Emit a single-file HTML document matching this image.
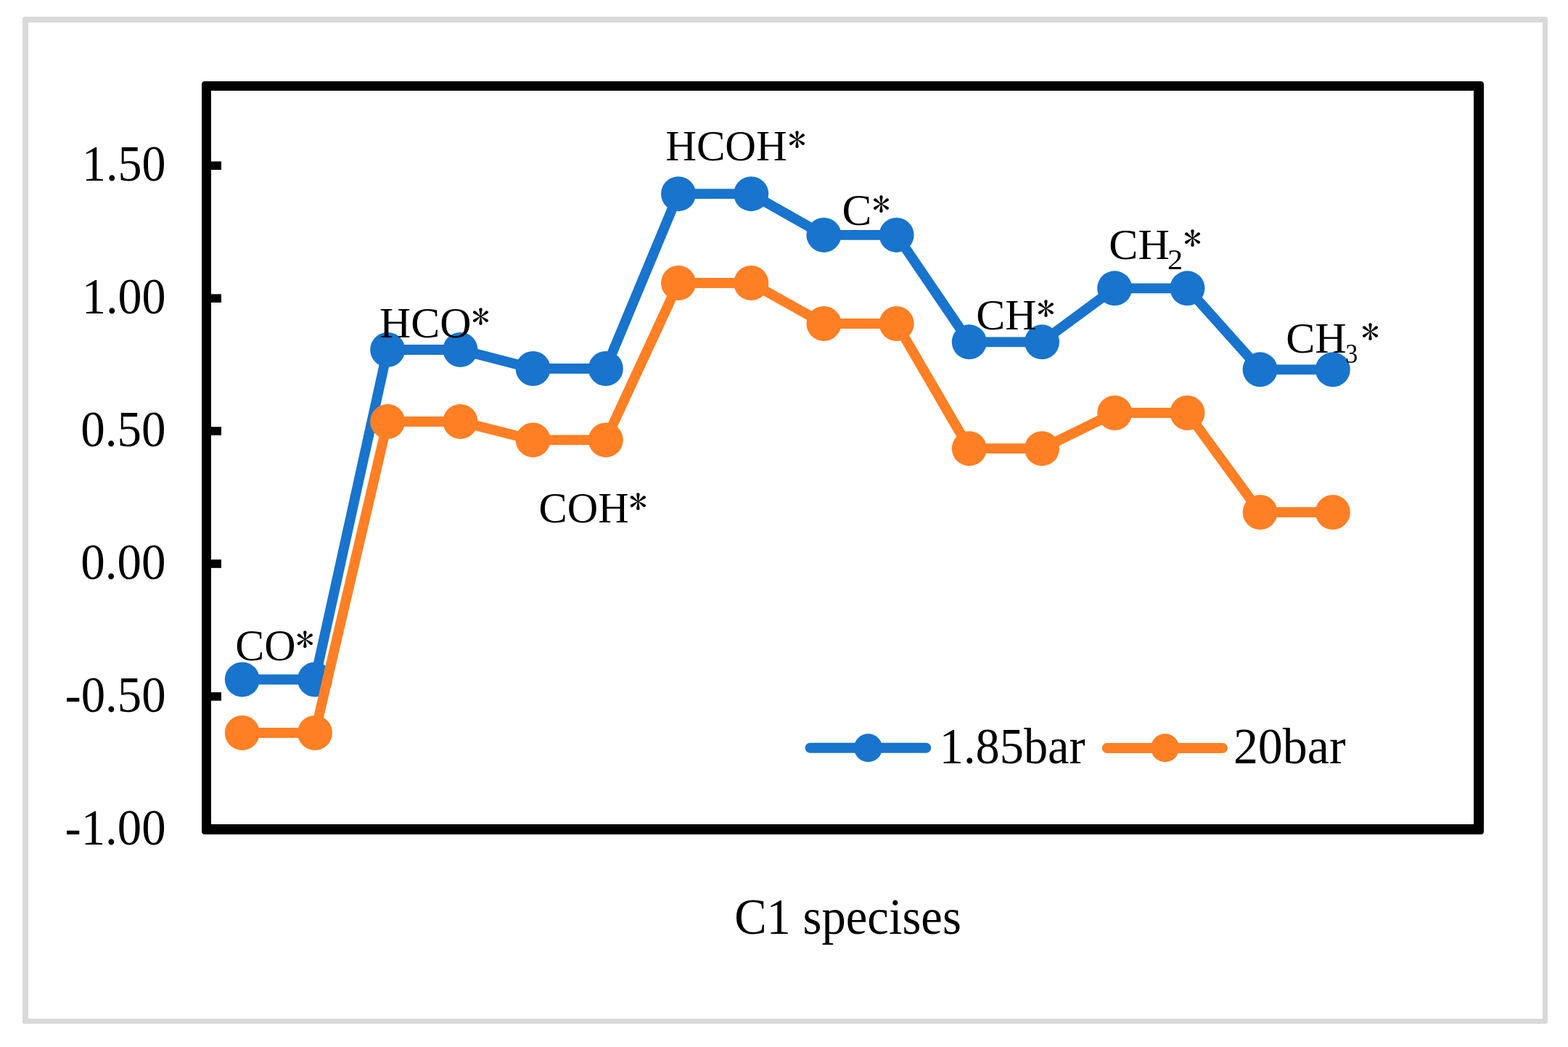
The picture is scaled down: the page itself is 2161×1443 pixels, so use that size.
<!DOCTYPE html>
<html><head><meta charset="utf-8"><title>C1 species chart</title>
<style>html,body{margin:0;padding:0;background:#fff;}svg{display:block;}</style>
</head><body>
<svg width="2161" height="1443" viewBox="0 0 2161 1443">
<rect x="0" y="0" width="2161" height="1443" fill="#fff"/>
<path fill-rule="evenodd" fill="#D9D9D9" d="M34,23 H2130 Q2133,23 2133,26 V1408 Q2133,1411 2130,1411 H34 Q31,1411 31,1408 V26 Q31,23 34,23 Z M39,31 H2126 V1404 H39 Z"/>
<path fill-rule="evenodd" fill="#000" d="M282.5,112 H2040.5 Q2045,112 2045,116.5 V1145.5 Q2045,1150 2040.5,1150 H282.5 Q278,1150 278,1145.5 V116.5 Q278,112 282.5,112 Z M291,125 H2031 V1136 H291 Z"/>
<rect x="290" y="222.47" width="15" height="11.6" fill="#000"/>
<rect x="290" y="405.38" width="15" height="11.6" fill="#000"/>
<rect x="290" y="588.29" width="15" height="11.6" fill="#000"/>
<rect x="290" y="771.20" width="15" height="11.6" fill="#000"/>
<rect x="290" y="954.11" width="15" height="11.6" fill="#000"/>
<polyline points="333.8,936.5 434.0,936.5 534.2,482.0 634.4,482.0 734.6,508.0 834.8,508.0 935.0,267.2 1035.2,267.2 1135.4,323.9 1235.6,323.9 1335.8,471.3 1436.0,471.3 1536.2,397.3 1636.4,397.3 1736.6,509.3 1836.8,509.3" fill="none" stroke="#1874CD" stroke-width="13.8" stroke-linejoin="round"/>
<circle cx="333.8" cy="936.5" r="24" fill="#1874CD"/>
<circle cx="434.0" cy="936.5" r="24" fill="#1874CD"/>
<circle cx="534.2" cy="482.0" r="24" fill="#1874CD"/>
<circle cx="634.4" cy="482.0" r="24" fill="#1874CD"/>
<circle cx="734.6" cy="508.0" r="24" fill="#1874CD"/>
<circle cx="834.8" cy="508.0" r="24" fill="#1874CD"/>
<circle cx="935.0" cy="267.2" r="24" fill="#1874CD"/>
<circle cx="1035.2" cy="267.2" r="24" fill="#1874CD"/>
<circle cx="1135.4" cy="323.9" r="24" fill="#1874CD"/>
<circle cx="1235.6" cy="323.9" r="24" fill="#1874CD"/>
<circle cx="1335.8" cy="471.3" r="24" fill="#1874CD"/>
<circle cx="1436.0" cy="471.3" r="24" fill="#1874CD"/>
<circle cx="1536.2" cy="397.3" r="24" fill="#1874CD"/>
<circle cx="1636.4" cy="397.3" r="24" fill="#1874CD"/>
<circle cx="1736.6" cy="509.3" r="24" fill="#1874CD"/>
<circle cx="1836.8" cy="509.3" r="24" fill="#1874CD"/>
<polyline points="333.8,1010.0 434.0,1010.0 534.2,581.0 634.4,581.0 734.6,606.4 834.8,606.4 935.0,390.0 1035.2,390.0 1135.4,446.0 1235.6,446.0 1335.8,618.2 1436.0,618.2 1536.2,569.0 1636.4,569.0 1736.6,706.0 1836.8,706.0" fill="none" stroke="#FF7F24" stroke-width="13.8" stroke-linejoin="round"/>
<circle cx="333.8" cy="1010.0" r="24" fill="#FF7F24"/>
<circle cx="434.0" cy="1010.0" r="24" fill="#FF7F24"/>
<circle cx="534.2" cy="581.0" r="24" fill="#FF7F24"/>
<circle cx="634.4" cy="581.0" r="24" fill="#FF7F24"/>
<circle cx="734.6" cy="606.4" r="24" fill="#FF7F24"/>
<circle cx="834.8" cy="606.4" r="24" fill="#FF7F24"/>
<circle cx="935.0" cy="390.0" r="24" fill="#FF7F24"/>
<circle cx="1035.2" cy="390.0" r="24" fill="#FF7F24"/>
<circle cx="1135.4" cy="446.0" r="24" fill="#FF7F24"/>
<circle cx="1235.6" cy="446.0" r="24" fill="#FF7F24"/>
<circle cx="1335.8" cy="618.2" r="24" fill="#FF7F24"/>
<circle cx="1436.0" cy="618.2" r="24" fill="#FF7F24"/>
<circle cx="1536.2" cy="569.0" r="24" fill="#FF7F24"/>
<circle cx="1636.4" cy="569.0" r="24" fill="#FF7F24"/>
<circle cx="1736.6" cy="706.0" r="24" fill="#FF7F24"/>
<circle cx="1836.8" cy="706.0" r="24" fill="#FF7F24"/>
<line x1="1116.6" y1="1030.8" x2="1276.2" y2="1030.8" stroke="#1874CD" stroke-width="14" stroke-linecap="round"/>
<circle cx="1196.5" cy="1030.8" r="19.5" fill="#1874CD"/>
<line x1="1525.7" y1="1031" x2="1684.9" y2="1031" stroke="#FF7F24" stroke-width="14" stroke-linecap="round"/>
<circle cx="1605.6" cy="1030.8" r="19.5" fill="#FF7F24"/>
<g font-family="'Liberation Serif', 'Times New Roman', serif" fill="#000">
<text font-size="66" transform="matrix(0.9992 0 0 1.0575 113.10 249.29)">1.50</text>
<text font-size="66" transform="matrix(0.9992 0 0 1.0575 113.10 432.20)">1.00</text>
<text font-size="66" transform="matrix(1.0147 0 0 1.0575 111.35 615.11)">0.50</text>
<text font-size="66" transform="matrix(1.0147 0 0 1.0575 111.35 798.02)">0.00</text>
<text font-size="66" transform="matrix(1.0120 0 0 1.0575 89.42 980.93)">-0.50</text>
<text font-size="66" transform="matrix(1.0120 0 0 1.0575 89.42 1163.84)">-1.00</text>
<text font-size="66" transform="matrix(1.0047 0 0 1.0569 1294.87 1052.05)">1.85bar</text>
<text font-size="66" transform="matrix(1.0287 0 0 1.0504 1699.92 1051.80)">20bar</text>
<text font-size="66" transform="matrix(1.0095 0 0 1.0649 1012.17 1287.40)">C1 specises</text>
<text font-size="58" transform="matrix(1.0341 0 0 1.0547 324.24 910.40)">CO</text>
<text font-size="58" transform="matrix(0.8705 0 0 0.8310 407.83 899.26)" font-family="IPAGothic, 'Liberation Serif', sans-serif">*</text>
<text font-size="58" transform="matrix(1.0320 0 0 1.0269 523.08 465.00)">HCO</text>
<text font-size="58" transform="matrix(0.8603 0 0 0.8276 650.00 454.23)" font-family="IPAGothic, 'Liberation Serif', sans-serif">*</text>
<text font-size="58" transform="matrix(1.0137 0 0 1.0269 742.59 719.80)">COH</text>
<text font-size="58" transform="matrix(0.8726 0 0 0.8310 866.77 709.36)" font-family="IPAGothic, 'Liberation Serif', sans-serif">*</text>
<text font-size="58" transform="matrix(1.0200 0 0 1.0243 917.20 221.00)">HCOH</text>
<text font-size="58" transform="matrix(0.8603 0 0 0.8276 1086.00 210.23)" font-family="IPAGothic, 'Liberation Serif', sans-serif">*</text>
<text font-size="58" transform="matrix(1.0572 0 0 1.0521 1160.39 310.30)">C</text>
<text font-size="58" transform="matrix(0.8603 0 0 0.8310 1202.00 299.16)" font-family="IPAGothic, 'Liberation Serif', sans-serif">*</text>
<text font-size="58" transform="matrix(1.0341 0 0 1.0296 1345.34 454.00)">CH</text>
<text font-size="58" transform="matrix(0.8603 0 0 0.8224 1428.90 443.10)" font-family="IPAGothic, 'Liberation Serif', sans-serif">*</text>
<text font-size="58" transform="matrix(1.0367 0 0 1.0177 1528.33 356.70)">CH</text>
<text font-size="39" transform="matrix(1.0874 0 0 1.0030 1609.04 370.80)">2</text>
<text font-size="58" transform="matrix(0.8644 0 0 0.8276 1630.89 346.23)" font-family="IPAGothic, 'Liberation Serif', sans-serif">*</text>
<text font-size="58" transform="matrix(1.0367 0 0 1.0269 1772.23 486.00)">CH</text>
<text font-size="39" transform="matrix(0.8752 0 0 0.9922 1854.27 499.52)">3</text>
<text font-size="58" transform="matrix(0.8644 0 0 0.8310 1875.89 475.26)" font-family="IPAGothic, 'Liberation Serif', sans-serif">*</text>
</g>
</svg>
</body></html>
